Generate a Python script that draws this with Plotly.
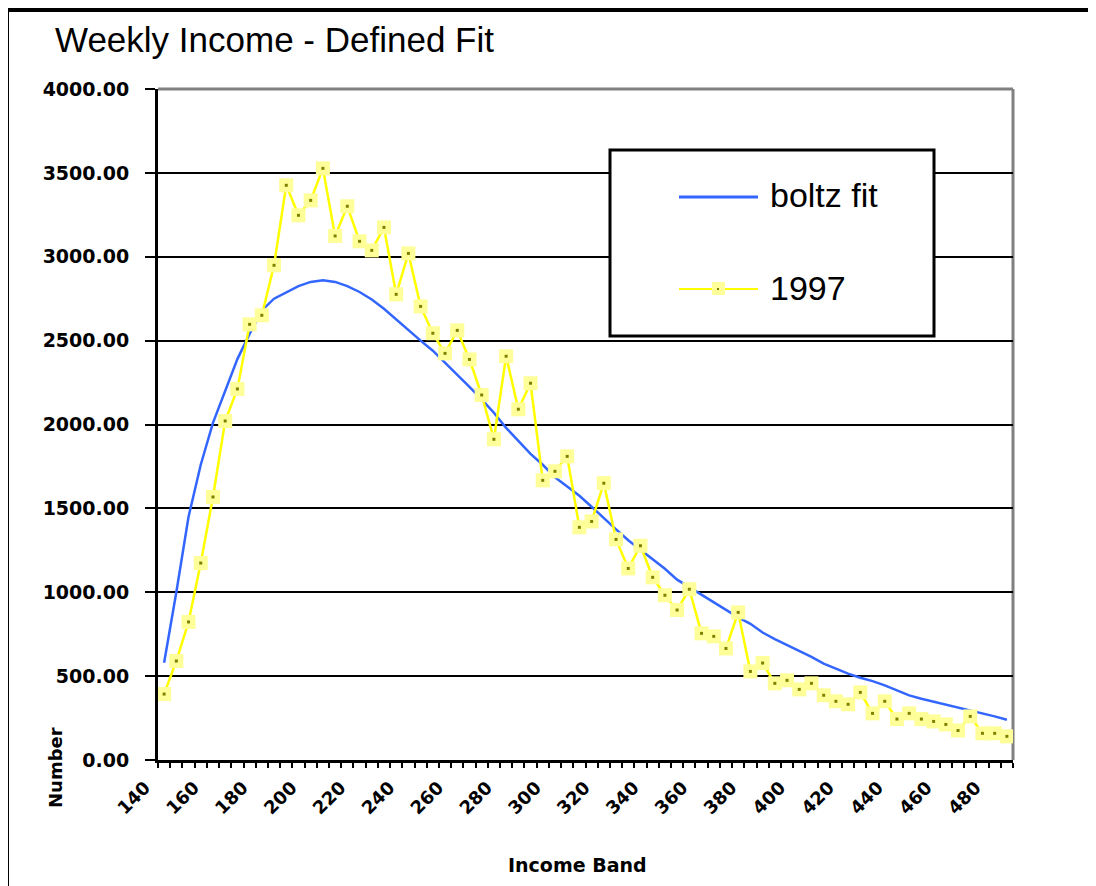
import plotly.graph_objects as go

# ---- data ----
income_bands = [
    "140", "145", "150", "155", "160", "165", "170", "175", "180", "185",
    "190", "195", "200", "205", "210", "215", "220", "225", "230", "235",
    "240", "245", "250", "255", "260", "265", "270", "275", "280", "285",
    "290", "295", "300", "305", "310", "315", "320", "325", "330", "335",
    "340", "345", "350", "355", "360", "365", "370", "375", "380", "385",
    "390", "395", "400", "405", "410", "415", "420", "425", "430", "435",
    "440", "445", "450", "455", "460", "465", "470", "475", "480", "485",
]

boltz_fit = [
    580, 1000, 1450, 1760, 2010, 2200, 2390, 2540, 2680, 2750,
    2790, 2825, 2850, 2860, 2850, 2825, 2790, 2745, 2690, 2625,
    2560, 2500, 2440, 2370, 2300, 2225, 2150, 2070, 1980, 1900,
    1825, 1760, 1685, 1630, 1575, 1510, 1440, 1375, 1310, 1255,
    1200, 1140, 1075, 1030, 980, 935, 890, 850, 812, 760,
    720, 685, 650, 615, 575, 545, 515, 490, 470, 445,
    415, 385, 365, 348, 330, 312, 295, 278, 260, 240,
]

y1997 = [
    393, 590, 823, 1174, 1568, 2021, 2212, 2597, 2651, 2949,
    3426, 3247, 3336, 3527, 3124, 3301, 3092, 3038, 3175, 2776,
    3020, 2704, 2544, 2424, 2561, 2388, 2176, 1912, 2407, 2091,
    2246, 1667, 1721, 1810, 1387, 1422, 1650, 1315, 1142, 1277,
    1089, 982, 894, 1018, 755, 737, 665, 880, 528, 578,
    457, 475, 421, 457, 386, 350, 332, 403, 278, 350,
    244, 278, 244, 230, 212, 176, 260, 159, 159, 141,
]

tick_labels = ["140", "160", "180", "200", "220", "240", "260", "280", "300",
               "320", "340", "360", "380", "400", "420", "440", "460", "480"]

ytick_vals = [0, 500, 1000, 1500, 2000, 2500, 3000, 3500, 4000]

# ---- figure geometry (page offset of 8px by body margin) ----
OFF = 8
W, H = 1096 - OFF, 886 - OFF
L, R, T, B = 158, 1013, 89, 760   # plot area in reference pixel coords


def px(x):
    return (x - L) / (R - L)


def py(y):
    return (B - y) / (B - T)


BLUE = "#3366FF"
YEL = "#FFFF00"
MARK = "#FFFF99"
DOT = "#808000"

fig = go.Figure()
fig.add_trace(go.Scatter(x=income_bands, y=boltz_fit, mode="lines",
                         line=dict(color=BLUE, width=2.5), name="boltz fit",
                         showlegend=False, hoverinfo="skip"))
fig.add_trace(go.Scatter(x=income_bands, y=y1997, mode="lines+markers",
                         line=dict(color=YEL, width=2.5),
                         marker=dict(symbol="square", size=14, color=MARK,
                                     line=dict(width=0)),
                         name="1997", showlegend=False))
fig.add_trace(go.Scatter(x=income_bands, y=y1997, mode="markers",
                         marker=dict(symbol="square", size=3, color=DOT,
                                     line=dict(width=0)),
                         showlegend=False, hoverinfo="skip"))

ticktext = [b if b in tick_labels else "" for b in income_bands]

fig.update_xaxes(
    type="category", range=[-0.5, len(income_bands) - 0.5],
    tickmode="array", tickvals=income_bands, ticktext=ticktext,
    tickson="boundaries", ticks="outside", ticklen=5, tickwidth=2,
    tickcolor="black", tickangle=-45,
    ticklabelshift=-19, ticklabelstandoff=7,
    tickfont=dict(family="DejaVu Sans", size=18, color="black", weight="bold"),
    showgrid=False, showline=True, linecolor="black", linewidth=3,
    zeroline=False,
)
fig.update_yaxes(
    range=[0, 4000], tickmode="array", tickvals=ytick_vals,
    tickformat=".2f", ticks="outside", ticklen=10, tickwidth=2,
    tickcolor="black", ticklabelstandoff=12,
    tickfont=dict(family="DejaVu Sans", size=19, color="black", weight="bold"),
    showgrid=True, gridcolor="black", gridwidth=2,
    showline=True, linecolor="black", linewidth=3, zeroline=False,
)

shapes = [
    # plot area top/right border (gray)
    dict(type="line", xref="paper", yref="paper", x0=0, x1=1, y0=1, y1=1,
         line=dict(color="#808080", width=3), layer="above"),
    dict(type="line", xref="paper", yref="paper", x0=1, x1=1, y0=0, y1=1,
         line=dict(color="#808080", width=3), layer="between"),
    # outer chart frame: left, top, short right end
    dict(type="line", xref="paper", yref="paper",
         x0=px(7), x1=px(7), y0=py(900), y1=py(8),
         line=dict(color="black", width=4), layer="above"),
    dict(type="line", xref="paper", yref="paper",
         x0=px(5), x1=px(1092), y0=py(10), y1=py(10),
         line=dict(color="black", width=4), layer="above"),
    dict(type="line", xref="paper", yref="paper",
         x0=px(1090), x1=px(1090), y0=py(8), y1=py(20),
         line=dict(color="black", width=4), layer="above"),
    # legend box
    dict(type="rect", xref="paper", yref="paper",
         x0=px(610), x1=px(934), y0=py(336), y1=py(150),
         line=dict(color="black", width=3), fillcolor="white", layer="above"),
    dict(type="line", xref="paper", yref="paper",
         x0=px(679), x1=px(758), y0=py(197), y1=py(197),
         line=dict(color=BLUE, width=3), layer="above"),
    dict(type="line", xref="paper", yref="paper",
         x0=px(679), x1=px(758), y0=py(289), y1=py(289),
         line=dict(color=YEL, width=2), layer="above"),
    dict(type="rect", xref="paper", yref="paper",
         x0=px(712), x1=px(725), y0=py(295), y1=py(282),
         line=dict(width=0), fillcolor=MARK, layer="above"),
    dict(type="rect", xref="paper", yref="paper",
         x0=px(717), x1=px(719), y0=py(290), y1=py(288),
         line=dict(width=0), fillcolor=DOT, layer="above"),
]

annotations = [
    dict(text="Weekly Income - Defined Fit", xref="paper", yref="paper",
         x=px(53), y=py(40), xanchor="left", yanchor="middle", showarrow=False,
         font=dict(family="Liberation Sans", size=35, color="black")),
    dict(text="boltz fit", xref="paper", yref="paper",
         x=px(768), y=py(195), xanchor="left", yanchor="middle", showarrow=False,
         font=dict(family="Liberation Sans", size=34, color="black")),
    dict(text="1997", xref="paper", yref="paper",
         x=px(768), y=py(288), xanchor="left", yanchor="middle", showarrow=False,
         font=dict(family="Liberation Sans", size=34, color="black")),
    dict(text="Income Band", xref="paper", yref="paper",
         x=px(577), y=py(865), xanchor="center", yanchor="middle",
         showarrow=False,
         font=dict(family="DejaVu Sans", size=19, color="black", weight="bold")),
    dict(text="Number", xref="paper", yref="paper", textangle=-90,
         x=px(55), y=py(768), xanchor="center", yanchor="middle",
         showarrow=False,
         font=dict(family="DejaVu Sans", size=18, color="black", weight="bold")),
]

fig.update_layout(
    width=W, height=H,
    margin=dict(l=L - OFF, r=W - (R - OFF), t=T - OFF, b=H - (B - OFF), pad=0),
    paper_bgcolor="white", plot_bgcolor="white",
    showlegend=False,
    shapes=shapes, annotations=annotations,
)

fig.write_html("out.html")
